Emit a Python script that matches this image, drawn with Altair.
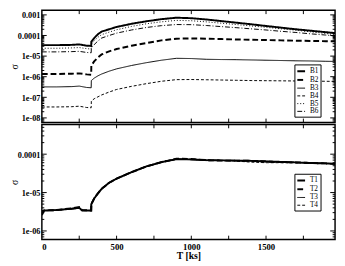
import altair as alt
import pandas as pd

# ---------------- data ----------------
X_TOP = [0, 100, 200, 250, 300, 330, 331, 350, 375, 400, 450, 500, 600, 700, 800, 900,
         1000, 1100, 1200, 1300, 1400, 1500, 1600, 1700, 1800, 1900, 1962]
B1 = [3.4e-5, 3.4e-5, 3.5e-5, 3.7e-5, 3.2e-5, 3.1e-5,
      5.0e-5, 7.5e-5, 1.15e-4, 1.55e-4, 2.0e-4, 2.6e-4, 3.7e-4, 4.9e-4, 6.2e-4, 7.3e-4,
      6.9e-4, 6.0e-4, 5.0e-4, 4.2e-4, 3.5e-4, 2.9e-4, 2.4e-4, 2.0e-4, 1.7e-4, 1.45e-4, 1.3e-4]
B2 = [1.35e-6, 1.35e-6, 1.4e-6, 1.45e-6, 1.3e-6, 1.25e-6,
      3.5e-6, 5.5e-6, 8.5e-6, 1.2e-5, 1.7e-5, 2.2e-5, 3.2e-5, 4.3e-5, 5.8e-5, 7.0e-5,
      7.2e-5, 7.0e-5, 6.7e-5, 6.4e-5, 6.2e-5, 6.0e-5, 5.8e-5, 5.6e-5, 5.45e-5, 5.3e-5, 5.2e-5]
B3 = [3.2e-7, 3.2e-7, 3.3e-7, 3.5e-7, 3.0e-7, 2.9e-7,
      6.5e-7, 8.5e-7, 1.1e-6, 1.35e-6, 1.85e-6, 2.4e-6, 3.5e-6, 4.8e-6, 6.3e-6, 7.8e-6,
      7.6e-6, 7.0e-6, 6.8e-6, 6.7e-6, 6.5e-6, 6.3e-6, 6.1e-6, 5.9e-6, 5.8e-6, 5.6e-6, 5.5e-6]
B4 = [3.4e-8, 3.4e-8, 3.5e-8, 3.7e-8, 3.2e-8, 3.1e-8,
      6.5e-8, 8.5e-8, 1.05e-7, 1.3e-7, 1.8e-7, 2.4e-7, 3.4e-7, 4.6e-7, 6.0e-7, 7.2e-7,
      7.3e-7, 7.1e-7, 6.9e-7, 6.7e-7, 6.5e-7, 6.4e-7, 6.3e-7, 6.2e-7, 6.1e-7, 6.0e-7, 5.9e-7]
B5 = [2.4e-5, 2.4e-5, 2.5e-5, 2.6e-5, 2.3e-5, 2.2e-5,
      3.8e-5, 5.5e-5, 8.2e-5, 1.1e-4, 1.45e-4, 1.9e-4, 2.75e-4, 3.7e-4, 4.6e-4, 5.4e-4,
      5.2e-4, 4.6e-4, 3.95e-4, 3.4e-4, 2.9e-4, 2.5e-4, 2.1e-4, 1.8e-4, 1.5e-4, 1.25e-4, 1.1e-4]
B6 = [1.6e-5, 1.6e-5, 1.65e-5, 1.7e-5, 1.5e-5, 1.45e-5,
      2.5e-5, 3.6e-5, 5.4e-5, 7.5e-5, 1.0e-4, 1.3e-4, 1.85e-4, 2.45e-4, 3.0e-4, 3.4e-4,
      3.35e-4, 3.05e-4, 2.7e-4, 2.4e-4, 2.1e-4, 1.85e-4, 1.6e-4, 1.4e-4, 1.2e-4, 1.05e-4, 9.5e-5]

X_BOT = [0, 15, 100, 200, 250, 270, 330, 331, 350, 375, 400, 450, 500, 600, 700, 800, 900,
         1000, 1100, 1200, 1300, 1400, 1500, 1600, 1700, 1800, 1900, 1962]
T1 = [3.3e-6, 3.4e-6, 3.5e-6, 3.8e-6, 4.0e-6, 3.4e-6, 3.4e-6,
      5.0e-6, 7.0e-6, 9.5e-6, 1.25e-5, 1.8e-5, 2.3e-5, 3.4e-5, 4.8e-5, 6.2e-5, 7.4e-5,
      7.3e-5, 7.0e-5, 6.9e-5, 6.8e-5, 6.7e-5, 6.5e-5, 6.3e-5, 6.1e-5, 5.9e-5, 5.75e-5, 5.6e-5]
T2 = [2.6e-6, 3.4e-6, 3.5e-6, 3.9e-6, 4.2e-6, 3.5e-6, 3.4e-6,
      5.0e-6, 7.0e-6, 9.5e-6, 1.25e-5, 1.8e-5, 2.3e-5, 3.4e-5, 4.8e-5, 6.2e-5, 7.6e-5,
      7.5e-5, 7.0e-5, 6.8e-5, 6.8e-5, 6.7e-5, 6.4e-5, 6.2e-5, 6.1e-5, 5.9e-5, 5.75e-5, 5.6e-5]
T3 = [3.0e-6, 3.4e-6, 3.5e-6, 3.7e-6, 3.9e-6, 3.4e-6, 3.4e-6,
      5.0e-6, 7.0e-6, 9.5e-6, 1.25e-5, 1.8e-5, 2.3e-5, 3.4e-5, 4.8e-5, 6.2e-5, 7.4e-5,
      7.2e-5, 6.8e-5, 6.9e-5, 6.8e-5, 6.7e-5, 6.5e-5, 6.3e-5, 6.1e-5, 5.9e-5, 5.75e-5, 5.6e-5]
T4 = [3.4e-6, 3.4e-6, 3.5e-6, 3.8e-6, 4.1e-6, 3.4e-6, 3.4e-6,
      5.0e-6, 7.0e-6, 9.5e-6, 1.25e-5, 1.8e-5, 2.3e-5, 3.4e-5, 4.8e-5, 6.2e-5, 7.5e-5,
      7.4e-5, 7.0e-5, 6.9e-5, 6.6e-5, 6.2e-5, 6.0e-5, 6.0e-5, 6.0e-5, 5.85e-5, 5.75e-5, 5.6e-5]

TOP_NAMES = ["B1", "B2", "B3", "B4", "B5", "B6"]
BOT_NAMES = ["T1", "T2", "T3", "T4"]
X_TICKS = [250, 500, 750, 1000, 1250, 1500, 1750]
X_LABELS = [0, 500, 1000, 1500]
TOP_DECADES = [1e-8, 1e-7, 1e-6, 1e-5, 1e-4, 1e-3]
BOT_DECADES = [1e-6, 1e-5, 1e-4]
MINOR_MULT = [2, 3, 4, 5, 6, 7, 8, 9]

# ---------------- layout / style ----------------
W = 303
H_TOP = 116
H_BOT = 119
X_DOMAIN = [0, 1962]
TOP_DOMAIN = [6.0e-9, 1.68e-3]
BOT_DOMAIN = [5.96e-7, 5.96e-4]
FONT = "Liberation Serif"

TOP_DASH = [[1, 0], [6, 3], [1, 0], [3, 2], [1, 2], [5, 2, 1, 2]]
TOP_WIDTH = [2, 2, 1, 1, 1, 1]
BOT_DASH = [[1, 0], [6, 3], [1, 0], [3, 2]]
BOT_WIDTH = [2, 2, 1, 1]


def long_df(xs, names, series):
    rows = []
    for n, s in zip(names, series):
        for i, (x, v) in enumerate(zip(xs, s)):
            rows.append({"x": x, "v": v, "series": n, "i": i})
    return pd.DataFrame(rows)


LABEL_EXPR = ("datum.value >= 0.00099 ? '0.001' : (datum.value >= 0.000099 ? '0.0001' : "
              "'1e-0' + round(-log(datum.value) / LN10))")


def panel(df, names, dashes, widths, ydom, decades, h, show_x, legend_y):
    xs = alt.Scale(domain=X_DOMAIN, nice=False, zero=False)
    ys = alt.Scale(type="log", domain=ydom, nice=False)
    yaxis = alt.Axis(values=decades, labelExpr=LABEL_EXPR, title="σ", ticks=False,
                     domain=False, grid=False, labelFontSize=8.5, labelPadding=2,
                     titleFontSize=10, titlePadding=-2, titleFontWeight="normal")
    if show_x:
        xaxis = alt.Axis(values=X_LABELS, format="d", title="T [ks]", ticks=False,
                         domain=False, grid=False, labelFontSize=9, labelPadding=3,
                         titleFontSize=10, titlePadding=0, titleFontWeight="bold")
    else:
        xaxis = None
    leg = alt.Legend(orient="none", legendX=261, legendY=legend_y, title=None,
                     labelFont=FONT, labelFontSize=7.5, symbolType="stroke",
                     symbolSize=64, strokeColor="black", fillColor="white",
                     padding=2, rowPadding=0, labelOffset=4, cornerRadius=0,
                     symbolStrokeColor="black")
    lines = alt.Chart(df).mark_line(clip=True, color="black").encode(
        x=alt.X("x:Q", scale=xs, axis=xaxis),
        y=alt.Y("v:Q", scale=ys, axis=yaxis),
        strokeDash=alt.StrokeDash("series:N", scale=alt.Scale(domain=names, range=dashes), legend=leg),
        strokeWidth=alt.StrokeWidth("series:N", scale=alt.Scale(type="ordinal", domain=names, range=widths), legend=leg),
        order=alt.Order("i:Q"),
    )
    xt = alt.Chart(pd.DataFrame({"t": X_TICKS}))
    xt_bot = xt.mark_rule(color="black", strokeWidth=1).encode(
        x=alt.X("t:Q", scale=xs, axis=xaxis), y=alt.value(h), y2=alt.value(h - 4))
    xt_top = xt.mark_rule(color="black", strokeWidth=1).encode(
        x=alt.X("t:Q", scale=xs, axis=xaxis), y=alt.value(0), y2=alt.value(4))
    major = [d for d in decades]
    minor = [d * m for d in [decades[0] / 10] + decades for m in MINOR_MULT
             if ydom[0] <= d * m <= ydom[1]]
    ymaj = alt.Chart(pd.DataFrame({"t": major}))
    ymin = alt.Chart(pd.DataFrame({"t": minor}))
    layers = [lines, xt_bot, xt_top]
    for src, ln in ((ymaj, 5), (ymin, 2.5)):
        layers.append(src.mark_rule(color="black", strokeWidth=1).encode(
            y=alt.Y("t:Q", scale=ys, axis=yaxis), x=alt.value(0), x2=alt.value(ln)))
        layers.append(src.mark_rule(color="black", strokeWidth=1).encode(
            y=alt.Y("t:Q", scale=ys, axis=yaxis), x=alt.value(W), x2=alt.value(W - ln)))
    return alt.layer(*layers).properties(
        width=W, height=h, view=alt.ViewBackground(stroke="black", strokeWidth=1.5))


top_df = long_df(X_TOP, TOP_NAMES, [B1, B2, B3, B4, B5, B6])
bot_df = long_df(X_BOT, BOT_NAMES, [T1, T2, T3, T4])

top = panel(top_df, TOP_NAMES, TOP_DASH, TOP_WIDTH, TOP_DOMAIN, TOP_DECADES, H_TOP, False, 56)
bot = panel(bot_df, BOT_NAMES, BOT_DASH, BOT_WIDTH, BOT_DOMAIN, BOT_DECADES, H_BOT, True, 51)

chart = alt.vconcat(top, bot, spacing=-4).resolve_scale(
    y="independent", strokeDash="independent", strokeWidth="independent"
).resolve_legend(strokeDash="independent", strokeWidth="independent").properties(
    padding={"top": -4, "left": 0, "right": 0, "bottom": 0}, background="white"
).configure_axis(
    labelFont=FONT, labelFontWeight="bold", titleFont=FONT, labelColor="black", titleColor="black"
)

chart.save("out.html", embed_options={"renderer": "svg", "actions": False})
